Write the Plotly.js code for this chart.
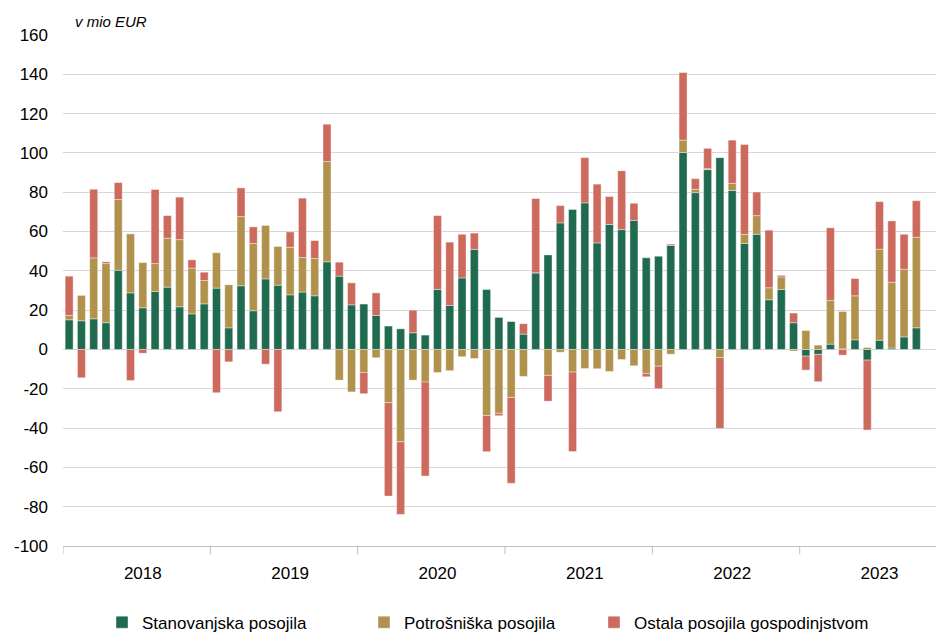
<!DOCTYPE html>
<html>
<head>
<meta charset="utf-8">
<script src="https://cdn.plot.ly/plotly-3.0.1.min.js"></script>
<style>html,body{margin:0;padding:0;background:#fff;}#chart{width:936px;height:634px;}</style>
</head>
<body>
<div id="chart"></div>
<script>
// Months Jan 2018 – Oct 2023
const years = [2018, 2019, 2020, 2021, 2022, 2023];
const months = [];
years.forEach(y => {
  const n = (y === 2023) ? 10 : 12;
  for (let m = 1; m <= n; m++) months.push(y + '-' + String(m).padStart(2, '0'));
});

// Stanovanjska posojila (housing loans), v mio EUR
const stanovanjska = [
  15.1, 14.6, 15.6, 13.6, 40.3, 28.8, 21.2, 29.5, 31.7, 21.7, 18.1, 23.2,
  31.2, 11.0, 32.4, 19.7, 35.9, 32.7, 27.8, 29.2, 27.3, 44.6, 37.3, 22.7,
  23.1, 17.3, 11.9, 10.5, 8.5, 7.3, 30.5, 22.4, 36.4, 50.9, 30.5, 16.3,
  14.2, 7.8, 39.0, 48.1, 64.4, 71.2, 74.6, 54.2, 63.6, 61.0, 65.6, 46.6,
  47.4, 52.9, 100.2, 79.8, 91.5, 97.6, 80.9, 53.9, 58.6, 25.3, 30.5, 13.6,
  -3.4, -2.5, 2.7, 0.3, 4.9, -5.4, 4.7, 0.7, 6.4, 11.0
];
// Potrošniška posojila (consumer loans)
const potrosniska = [
  2.2, 12.9, 31.0, 30.1, 36.0, 30.0, 23.0, 14.2, 24.9, 34.2, 23.3, 11.9,
  18.0, 21.9, 35.2, 34.2, 27.2, 19.7, 24.2, 17.6, 19.0, 51.0, -15.6, -21.6,
  -11.7, -4.2, -27.1, -47.0, -15.6, -16.6, -11.7, -10.8, -3.7, -4.6, -33.6, -32.5,
  -24.4, -13.7, 0.0, -13.2, -1.4, -11.5, -9.7, -9.8, -11.2, -5.1, -8.3, -12.2,
  -8.5, -2.4, 6.3, 1.7, 0.5, -4.1, 3.6, 4.6, 9.5, 6.1, 6.4, -0.8,
  9.6, 2.2, 22.2, 19.0, 22.4, 1.0, 46.3, 33.5, 34.4, 46.1
];
// Ostala posojila gospodinjstvom (other loans to households)
const ostala = [
  20.0, -14.4, 34.9, 0.9, 8.6, -15.8, -1.9, 37.7, 11.5, 21.6, 4.2, 4.2,
  -22.0, -6.3, 14.6, 8.5, -7.5, -31.7, 7.8, 30.2, 9.1, 19.0, 7.1, 11.2,
  -10.8, 11.5, -47.5, -36.9, 11.5, -47.8, 37.6, 32.2, 22.2, 8.3, -18.4, -1.2,
  -43.7, 5.3, 37.8, -13.1, 8.8, -40.4, 23.0, 29.9, 14.2, 29.9, 8.8, -1.7,
  -11.5, 0.7, 34.4, 5.4, 10.3, -36.1, 22.0, 45.8, 12.0, 29.3, 0.8, 4.9,
  -7.1, -13.9, 37.0, -2.9, 8.8, -35.6, 24.2, 31.2, 17.8, 18.6
];

const seriesNames = ['Stanovanjska posojila', 'Potrošniška posojila', 'Ostala posojila gospodinjstvom'];
const seriesColors = ['#206A50', '#B0924C', '#CD6A5E'];
const yearTickCats = years.map(y => y + '-07');
const yearLabels = years.map(String);
const yTicks = [-100, -80, -60, -40, -20, 0, 20, 40, 60, 80, 100, 120, 140, 160];
const yTickText = ['-100', '-80', '-60', '-40', '-20', '0', '20', '40', '60', '80', '100', '120', '140', '160'];

const FONT = 'Arial, "Liberation Sans", sans-serif';
const edge = {color: 'rgba(255,255,255,0.55)', width: 0.7};

const data = [stanovanjska, potrosniska, ostala].map((vals, i) => ({
  type: 'bar',
  x: months,
  y: vals,
  name: seriesNames[i],
  marker: {color: seriesColors[i], line: edge},
  legend: i === 0 ? 'legend' : ('legend' + (i + 1)),
  hoverinfo: 'x+y+name'
}));

// separator ticks between years on the category axis
const shapes = [];
for (let k = 0; k < years.length; k++) {
  const pos = k * 12 - 0.5;
  shapes.push({type: 'line', xref: 'x', yref: 'paper', x0: pos, x1: pos, y0: 0, y1: -0.016,
    line: {color: '#BFBFBF', width: 1}});
}

const legendBase = {orientation: 'h', yanchor: 'middle', y: -0.150, xanchor: 'left',
  font: {family: FONT, size: 17, color: '#000'}, bgcolor: 'rgba(0,0,0,0)', borderwidth: 0};

const layout = {
  width: 936, height: 634,
  margin: {l: 63, r: 0, t: 35, b: 88, autoexpand: false},
  paper_bgcolor: '#fff', plot_bgcolor: '#fff',
  barmode: 'relative',
  bargap: 0.35,
  font: {family: FONT, size: 17, color: '#000'},
  xaxis: {
    type: 'category',
    range: [-0.5, 70.6],
    tickmode: 'array', tickvals: yearTickCats, ticktext: yearLabels,
    ticks: '', showgrid: false, zeroline: false,
    showline: true, linecolor: '#BFBFBF', linewidth: 1,
    ticklabelstandoff: 12,
    tickfont: {family: FONT, size: 17, color: '#000'},
    automargin: false,
    fixedrange: true
  },
  yaxis: {
    range: [-100, 160],
    tickmode: 'array', tickvals: yTicks, ticktext: yTickText,
    ticks: '', showline: false,
    showgrid: true, gridcolor: '#D6D6D6', gridwidth: 1,
    zeroline: true, zerolinecolor: '#D6D6D6', zerolinewidth: 1,
    ticklabelstandoff: 14,
    tickfont: {family: FONT, size: 17, color: '#000'},
    automargin: false,
    fixedrange: true
  },
  showlegend: true,
  legend: Object.assign({}, legendBase, {x: (102 - 63) / 873}),
  legend2: Object.assign({}, legendBase, {x: (364 - 63) / 873}),
  legend3: Object.assign({}, legendBase, {x: (594 - 63) / 873}),
  shapes: shapes,
  annotations: [{
    text: 'v mio EUR', xref: 'paper', yref: 'paper', x: (73 - 63) / 873, y: 1, yshift: 14,
    xanchor: 'left', yanchor: 'middle', showarrow: false,
    font: {family: FONT, size: 15, color: '#000', style: 'italic'}
  }]
};

Plotly.newPlot('chart', data, layout, {displayModeBar: false, staticPlot: true});
</script>
</body>
</html>
